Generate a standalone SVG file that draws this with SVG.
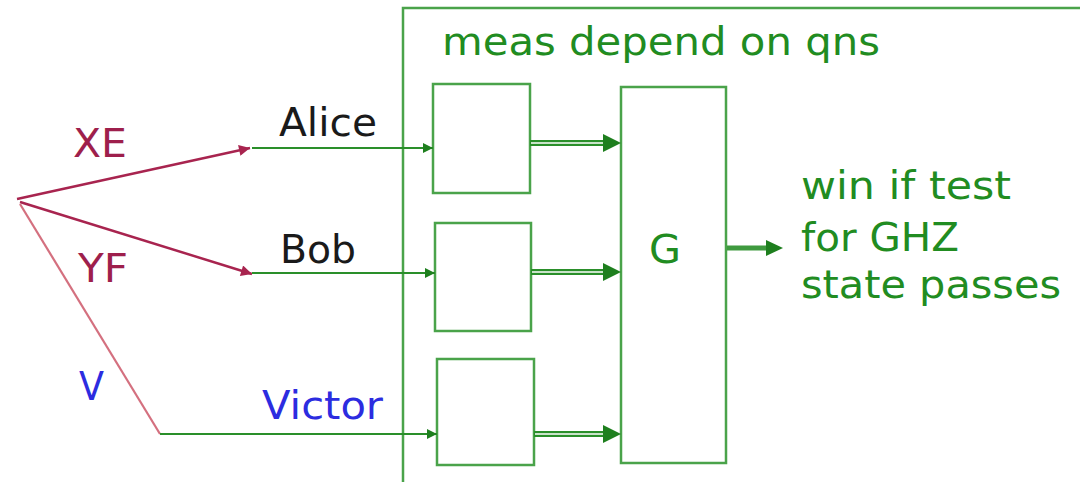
<svg xmlns="http://www.w3.org/2000/svg" width="1080" height="482" viewBox="0 0 1080 482">
  <defs>
    <marker id="ah-green" viewBox="0 0 10 10" refX="10" refY="5" markerWidth="12" markerHeight="10" markerUnits="userSpaceOnUse" orient="auto">
      <path d="M0,0 L10,5 L0,10 z" fill="#1e7f1e"/>
    </marker>
    <marker id="ah-red2" viewBox="0 0 10 10" refX="10" refY="5" markerWidth="14" markerHeight="11" markerUnits="userSpaceOnUse" orient="auto">
      <path d="M0,0 L10,5 L0,10 z" fill="#a8244f"/>
    </marker>
  </defs>
  <style>
    .box { fill: none; stroke: #4aa34a; stroke-width: 2.5; }
    .txt { font-family: "DejaVu Sans", Verdana, sans-serif; font-size: 39px; }
    .green { fill: #218c21; }
    .maroon { fill: #9e1f4c; }
    .blue { fill: #2c2ce0; }
    .black { fill: #1a1a1a; }
    .in { stroke: #2a8f2a; stroke-width: 2; fill: none; }
    .dbl-outer { stroke: #2a8f2a; stroke-width: 6; fill: none; }
    .dbl-inner { stroke: #ffffff; stroke-width: 1.6; fill: none; }
    .fan { stroke: #a8244f; stroke-width: 2.5; fill: none; }
  </style>
  <rect width="1080" height="482" fill="#ffffff"/>

  <g id="container">
    <rect class="box" x="403" y="8" width="720" height="520"/>
    <text class="txt green" x="442" y="55" textLength="438" lengthAdjust="spacingAndGlyphs">meas depend on qns</text>
  </g>

  <g id="box-alice">
    <rect class="box" x="433" y="84" width="97" height="109"/>
  </g>
  <g id="box-bob">
    <rect class="box" x="435" y="223" width="96" height="108"/>
  </g>
  <g id="box-victor">
    <rect class="box" x="437" y="359" width="97" height="106"/>
  </g>
  <g id="box-g">
    <rect class="box" x="621" y="87" width="105" height="376"/>
    <text class="txt green" x="649" y="263" font-size="41" textLength="32" lengthAdjust="spacingAndGlyphs">G</text>
  </g>

  <g id="labels">
    <text class="txt maroon" x="73" y="157" textLength="54" lengthAdjust="spacingAndGlyphs">XE</text>
    <text class="txt maroon" x="78" y="282" textLength="50" lengthAdjust="spacingAndGlyphs">YF</text>
    <text class="txt blue" x="79" y="400" textLength="25" lengthAdjust="spacingAndGlyphs">V</text>
    <text class="txt black" x="279" y="136" textLength="98" lengthAdjust="spacingAndGlyphs">Alice</text>
    <text class="txt black" x="280" y="263" textLength="76" lengthAdjust="spacingAndGlyphs">Bob</text>
    <text class="txt blue" x="262" y="419" textLength="121" lengthAdjust="spacingAndGlyphs">Victor</text>
  </g>

  <g id="result">
    <text class="txt green" x="801" y="199" textLength="210" lengthAdjust="spacingAndGlyphs">win if test</text>
    <text class="txt green" x="801" y="251" textLength="158" lengthAdjust="spacingAndGlyphs">for GHZ</text>
    <text class="txt green" x="801" y="298" textLength="260" lengthAdjust="spacingAndGlyphs">state passes</text>
  </g>

  <g id="connectors">
    <line class="fan" x1="17" y1="199" x2="250" y2="148" marker-end="url(#ah-red2)"/>
    <line class="fan" x1="20" y1="202" x2="252" y2="274" marker-end="url(#ah-red2)"/>
    <line x1="20" y1="204" x2="160" y2="434" stroke="#d4707f" stroke-width="2.2" fill="none"/>

    <line class="in" x1="252" y1="148" x2="433" y2="148" marker-end="url(#ah-green)"/>
    <line class="in" x1="252" y1="273" x2="435" y2="273" marker-end="url(#ah-green)"/>
    <line class="in" x1="160" y1="434" x2="437" y2="434" marker-end="url(#ah-green)"/>

    <line class="dbl-outer" x1="530" y1="143" x2="606" y2="143"/>
    <line class="dbl-inner" x1="531" y1="143" x2="606" y2="143"/>
    <path d="M603,134 L621,143 L603,152 z" fill="#1e7f1e"/>

    <line class="dbl-outer" x1="531" y1="272" x2="606" y2="272"/>
    <line class="dbl-inner" x1="532" y1="272" x2="606" y2="272"/>
    <path d="M603,263 L621,272 L603,281 z" fill="#1e7f1e"/>

    <line class="dbl-outer" x1="534" y1="434" x2="606" y2="434"/>
    <line class="dbl-inner" x1="535" y1="434" x2="606" y2="434"/>
    <path d="M603,425 L621,434 L603,443 z" fill="#1e7f1e"/>

    <line x1="727" y1="248" x2="768" y2="248" stroke="#3f9a3f" stroke-width="5"/>
    <path d="M766,240 L783,248 L766,256 z" fill="#1e7f1e"/>
  </g>
</svg>
